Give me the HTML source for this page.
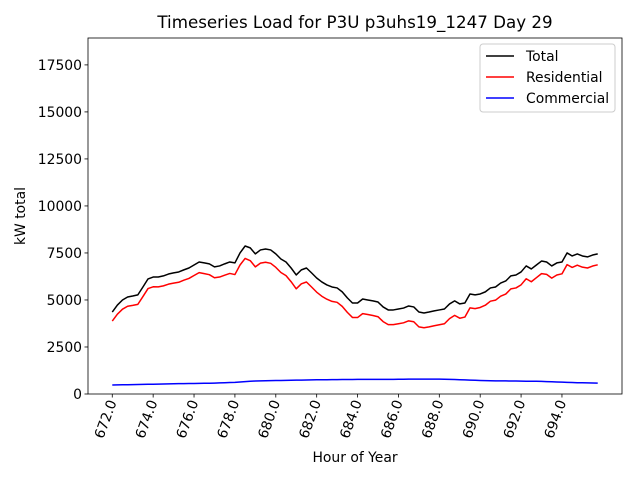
<!DOCTYPE html>
<html><head><meta charset="utf-8"><style>body{margin:0;background:#fff}svg{display:block;font-family:"DejaVu Sans","Liberation Sans",sans-serif}</style></head>
<body>
<svg id="chart" width="640" height="480"></svg>
<script>
const hoursStart = 672;
const stepHours = 0.25;
const xTicks = [672,674,676,678,680,682,684,686,688,690,692,694];
const xTickLabels = ["672.0","674.0","676.0","678.0","680.0","682.0","684.0","686.0","688.0","690.0","692.0","694.0"];
const yTicks = [0,2500,5000,7500,10000,12500,15000,17500];
const yTickLabels = ["0","2500","5000","7500","10000","12500","15000","17500"];
const totalLoad = [4360,4730,5000,5160,5210,5270,5690,6120,6220,6220,6280,6380,6440,6490,6600,6700,6860,7020,6970,6920,6760,6810,6920,7020,6970,7500,7870,7770,7450,7660,7710,7660,7450,7180,7020,6700,6330,6600,6700,6440,6170,5960,5800,5690,5640,5430,5110,4840,4840,5050,5000,4950,4890,4630,4470,4470,4520,4570,4680,4630,4360,4310,4360,4420,4470,4520,4790,4950,4790,4840,5320,5270,5320,5430,5640,5690,5900,6010,6280,6330,6490,6810,6650,6860,7070,7020,6810,6970,7020,7500,7340,7450,7340,7290,7390,7450];
const residentialLoad = [3880,4245,4510,4665,4710,4765,5180,5605,5700,5695,5750,5840,5895,5940,6050,6145,6300,6455,6400,6345,6180,6220,6320,6410,6350,6860,7210,7090,6760,6960,7005,6950,6735,6460,6295,5970,5595,5860,5955,5690,5415,5200,5040,4925,4875,4660,4340,4070,4065,4275,4225,4175,4110,3850,3690,3690,3735,3785,3890,3840,3570,3520,3570,3630,3680,3735,4010,4180,4030,4090,4580,4540,4600,4720,4935,4990,5200,5315,5590,5640,5805,6130,5970,6185,6400,6360,6160,6330,6390,6880,6730,6850,6745,6700,6805,6870];
const commercialLoad = [480,485,490,495,500,505,510,515,520,525,530,540,545,550,550,555,560,565,570,575,580,590,600,610,620,640,660,680,690,700,705,710,715,720,725,730,735,740,745,750,755,760,760,765,765,770,770,770,775,775,775,775,780,780,780,780,785,785,790,790,790,790,790,790,790,785,780,770,760,750,740,730,720,710,705,700,700,695,690,690,685,680,680,675,670,660,650,640,630,620,610,600,595,590,585,580];

const NS="http://www.w3.org/2000/svg";
const svg=document.getElementById('chart');
const L=88,R=622,T=38,B=394;
const xMin=670.8125,xMax=696.9375,yMin=0,yMax=18930;
const xs=v=>L+(v-xMin)/(xMax-xMin)*(R-L);
const ys=v=>B-(v-yMin)/(yMax-yMin)*(B-T);
function mk(tag,attrs,parent){const e=document.createElementNS(NS,tag);for(const k in attrs)e.setAttribute(k,attrs[k]);(parent||svg).appendChild(e);return e;}

let t=mk('text',{x:355,y:28,'text-anchor':'middle','font-size':'16.7'});t.textContent='Timeseries Load for P3U p3uhs19_1247  Day 29';



const series=[[totalLoad,'#000','total-line'],[residentialLoad,'#f00','residential-line'],[commercialLoad,'#00f','commercial-line']];
series.forEach(([arr,c,n])=>{
  const d=arr.map((v,i)=>(i?'L':'M')+xs(hoursStart+i*stepHours).toFixed(2)+' '+ys(v).toFixed(2)).join(' ');
  const p=mk('path',{d:d,fill:'none',stroke:c,'stroke-width':1.5,'stroke-linejoin':'round'});
  
  
});

const frame=mk('rect',{x:L,y:T,width:R-L,height:B-T,fill:'none',stroke:'#000','stroke-width':0.8});



yTicks.forEach((v,i)=>{
  const y=ys(v);
  mk('line',{x1:L-3.5,x2:L,y1:y,y2:y,stroke:'#000','stroke-width':0.8});
  const tx=mk('text',{x:L-6,y:y+5,'text-anchor':'end','font-size':'13.9'});tx.textContent=yTickLabels[i];
  
  
});
xTicks.forEach((v,i)=>{
  const x=xs(v);
  mk('line',{x1:x,x2:x,y1:B,y2:B+3.5,stroke:'#000','stroke-width':0.8});
  const tx=mk('text',{x:x+4.5,y:B+8,'text-anchor':'end','font-size':'13.9',transform:`rotate(-70 ${x+4.5} ${B+8})`});tx.textContent=xTickLabels[i];
  
  
});
let xl=mk('text',{x:355,y:462,'text-anchor':'middle','font-size':'13.9'});xl.textContent='Hour of Year';


let yl=mk('text',{x:25,y:216,'text-anchor':'middle','font-size':'13.9',transform:'rotate(-90 25 216)'});yl.textContent='kW total';



const lg=mk('g',{});


mk('rect',{x:480,y:44,width:135,height:68,rx:3,fill:'#fff','fill-opacity':0.8,stroke:'#ccc','stroke-width':1},lg);
[['Total','#000'],['Residential','#f00'],['Commercial','#00f']].forEach(([n,c],i)=>{
  const y=56+i*21;
  mk('line',{x1:486,x2:514,y1:y,y2:y,stroke:c,'stroke-width':1.5},lg);
  const tx=mk('text',{x:526,y:y+5,'font-size':'13.9'},lg);tx.textContent=n;
  
  
});
</script>
</body></html>
